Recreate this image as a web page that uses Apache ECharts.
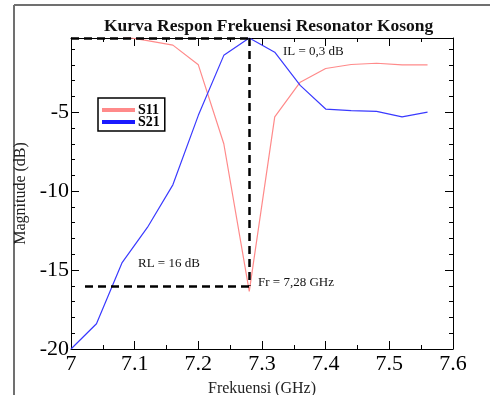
<!DOCTYPE html>
<html><head><meta charset="utf-8">
<script src="https://cdn.jsdelivr.net/npm/echarts@6/dist/echarts.min.js"></script>
<style>html,body{margin:0;padding:0;background:#fff}#c{width:490px;height:395px}</style>
</head><body><div id="c"></div>
<script>
const freq = [7.00,7.04,7.08,7.12,7.16,7.20,7.24,7.28,7.32,7.36,7.40,7.44,7.48,7.52,7.56];
const s11  = [-0.1,-0.1,-0.2,-0.47,-0.75,-2.0,-7.0,-16.35,-5.3,-3.1,-2.23,-1.98,-1.9,-2.0,-2.0];
const s21  = [-20.0,-18.4,-14.55,-12.3,-9.6,-5.2,-1.4,-0.3,-1.2,-3.3,-4.8,-4.9,-4.95,-5.3,-5.0];
const xTicks = ['7','7.1','7.2','7.3','7.4','7.5','7.6'];
const yTicks = ['-20','-15','-10','-5'];
const IL = -0.3, RL = -16, FR = 7.28, rlStart = 7.022;

const serif = '"Liberation Serif","DejaVu Serif",serif';
const chart = echarts.init(document.getElementById('c'));
const pair = a => freq.map((f,i)=>[f,a[i]]);
const yBase = {type:'value',min:-20,max:IL,splitLine:{show:false},axisLabel:{show:false}};
const dashed = {color:'#000',width:2.5,type:[8,5]};
chart.setOption({
  animation:false,
  title:{text:'Kurva Respon Frekuensi Resonator Kosong',left:99,top:12,
    textStyle:{fontFamily:serif,fontWeight:'bold',fontSize:17.5,color:'#111'}},
  grid:{left:71,right:37,top:38,bottom:46,show:false,containLabel:false,outerBoundsMode:'none'},
  legend:{left:98,top:98,orient:'vertical',itemGap:-2,itemWidth:33,itemHeight:4,icon:'rect',
    borderColor:'#000',borderWidth:1.5,padding:[5,5,2,4],backgroundColor:'#fff',
    textStyle:{fontFamily:'Liberation Serif',fontWeight:'bold',fontSize:14,color:'#000',padding:[0,0,0,-2]},
    data:[{name:'S11',itemStyle:{color:'#ff8a8a'}},{name:'S21',itemStyle:{color:'#1a1aff'}}]},
  xAxis:[
    {type:'value',min:7,max:7.6,interval:0.1,position:'bottom',splitLine:{show:false},
     axisLine:{lineStyle:{color:'#000',width:1}},
     axisTick:{inside:true,length:8,lineStyle:{color:'#000'}},
     minorTick:{show:true,splitNumber:2,length:4,lineStyle:{color:'#000'}},
     axisLabel:{margin:4,fontFamily:serif,fontSize:22,color:'#000',
       formatter:v=>xTicks[Math.round((v-7)*10)]},
     name:'Frekuensi (GHz)',nameLocation:'middle',nameGap:32,
     nameTextStyle:{fontFamily:serif,fontSize:16,color:'#222'}},
    {type:'value',min:7,max:7.6,interval:0.1,position:'top',splitLine:{show:false},
     axisLine:{lineStyle:{color:'#000',width:1}},
     axisTick:{inside:true,length:8,lineStyle:{color:'#000'}},
     minorTick:{show:true,splitNumber:2,length:4,lineStyle:{color:'#000'}},
     axisLabel:{show:false}}
  ],
  yAxis:[
    Object.assign({},yBase,{position:'left',interval:5,
      axisLine:{show:true,lineStyle:{color:'#000',width:1}},
      axisTick:{inside:true,length:8,lineStyle:{color:'#000'}},
      axisLabel:{show:true,showMaxLabel:false,margin:2,fontFamily:serif,fontSize:22,color:'#000',
        formatter:v=>{const i=Math.round((v+20)/5);return (Math.abs(v-(-20+5*i))<1e-6&&i<yTicks.length)?yTicks[i]:'';}},
      name:'Magnitude (dB)',nameLocation:'middle',nameGap:33,
      nameTextStyle:{fontFamily:serif,fontSize:16,color:'#222'}}),
    Object.assign({},yBase,{position:'left',interval:1,
      axisLine:{show:false},axisTick:{inside:true,length:4,lineStyle:{color:'#000'}}}),
    Object.assign({},yBase,{position:'right',interval:5,
      axisLine:{show:true,lineStyle:{color:'#000',width:1}},
      axisTick:{inside:true,length:8,lineStyle:{color:'#000'}}}),
    Object.assign({},yBase,{position:'right',interval:1,
      axisLine:{show:false},axisTick:{inside:true,length:4,lineStyle:{color:'#000'}}})
  ],
  series:[
    {name:'S11',type:'line',data:pair(s11),showSymbol:false,clip:true,
     lineStyle:{color:'#ff8a8a',width:1.2},itemStyle:{color:'#ff8a8a'},z:3},
    {name:'S21',type:'line',data:pair(s21),showSymbol:false,clip:true,
     lineStyle:{color:'#3a3aff',width:1.2},itemStyle:{color:'#3a3aff'},z:3,
     markLine:{symbol:'none',silent:true,lineStyle:dashed,label:{show:false},
       data:[
         [{coord:[7,IL]},{coord:[FR,IL]}],
         [{coord:[FR,IL]},{coord:[FR,RL]}],
         [{coord:[rlStart,RL]},{coord:[FR,RL]}]
       ]}}
  ],
  graphic:[
    {type:'line',shape:{x1:14,y1:5,x2:490,y2:5},style:{stroke:'#707070',lineWidth:2}},
    {type:'line',shape:{x1:14,y1:5,x2:14,y2:395},style:{stroke:'#707070',lineWidth:2}},
    {type:'text',left:283,top:45,style:{text:'IL = 0,3 dB',font:'13px '+serif,fill:'#111'}},
    {type:'text',left:138,top:257,style:{text:'RL = 16 dB',font:'13px '+serif,fill:'#111'}},
    {type:'text',left:258,top:276,style:{text:'Fr = 7,28 GHz',font:'13px '+serif,fill:'#111'}}
  ]
});
</script></body></html>
